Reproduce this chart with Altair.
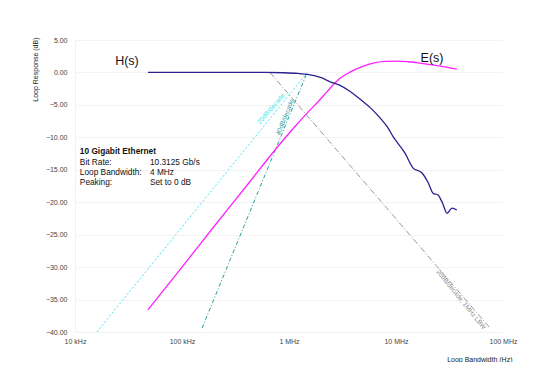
import altair as alt
import pandas as pd

FONT = "Liberation Sans"

# H(s) jitter transfer
h_freq = [4.8e4, 1e5, 3e5, 6e5, 9e5, 1.2e6, 1.5e6, 2.0e6, 2.4e6, 3.0e6, 3.7e6, 4.6e6,
          5.8e6, 7.1e6, 8.3e6, 9.4e6, 12.1e6, 14.4e6, 17.5e6, 20e6, 22.2e6, 24.7e6,
          27e6, 30e6, 33.4e6, 37e6]
h_db = [0, 0, 0, 0, -0.05, -0.15, -0.3, -0.8, -1.4, -2.0, -2.9, -4.1,
        -5.5, -7.0, -8.4, -9.9, -12.4, -14.7, -15.5, -17.0, -18.6, -18.9,
        -20.0, -21.7, -20.9, -21.2]

# E(s) error transfer
e_freq = [4.8e4, 1e5, 2e5, 4e5, 7.7e5, 1.1e6, 1.47e6, 1.9e6, 2.26e6, 2.7e6, 3.0e6,
          3.72e6, 4.8e6, 6.1e6, 8e6, 10.2e6, 13e6, 16.8e6, 25e6, 37e6]
e_db = [-36.6, -30.0, -23.7, -17.5, -11.6, -8.6, -6.3, -4.4, -3.0, -1.6, -0.9,
        0.05, 0.9, 1.45, 1.7, 1.75, 1.65, 1.45, 1.0, 0.5]

# asymptote lines
cyan_freq = [1.6e4, 1.47e6]
cyan_db = [-40.0, -0.1]
teal_freq = [1.54e5, 1.47e6]
teal_db = [-39.4, -0.1]
gray_freq = [6.64e5, 7.57e7]
gray_db = [0.0, -39.4]

# line annotations
ann_text = ["20dB/decade", "40dB/decade", "20dB/decade, 1MHz LBW"]
ann_freq = [6.79e5, 9.18e5, 4.05e7]
ann_db = [-5.6, -6.9, -35.0]
ann_angle = [311, 292, 51]
ann_color = ["#44e4f0", "#2a9d9d", "#8a8a8a"]

curve_labels = ["H(s)", "E(s)"]
curve_label_freq = [3.06e4, 2.17e7]
curve_label_db = [1.8, 2.2]

info_head = "10 Gigabit Ethernet"
info_keys = ["Bit Rate:", "Loop Bandwidth:", "Peaking:"]
info_vals = ["10.3125 Gb/s", "4 MHz", "Set to 0 dB"]
info_db = [-12.3, -13.9, -15.5, -17.0]
info_key_freq = 1.11e4
info_val_freq = 5.02e4

x_ticks = [1e4, 1e5, 1e6, 1e7, 1e8]
y_ticks = [5.0, 0.0, -5.0, -10.0, -15.0, -20.0, -25.0, -30.0, -35.0, -40.0]

xscale = alt.Scale(type="log", domain=[1e4, 1e8])
yscale = alt.Scale(domain=[-40, 5], nice=False)

xaxis = alt.Axis(
    values=x_ticks,
    labelExpr="datum.value >= 1e6 ? format(datum.value/1e6, 'd') + ' MHz' : format(datum.value/1e3, 'd') + ' kHz'",
    title="Loop Bandwidth (Hz)", titleFont=FONT, titleFontSize=7, titleFontWeight="normal",
    titleColor="#222", titleX=437, titleY=27, titleAlign="right", titleBaseline="middle",
    titleLimit=200,
    labelFont=FONT, labelFontSize=7, labelColor="#444", labelPadding=5,
    ticks=False, grid=False, domainColor="#f2f2f2", labelFlush=False, labelOverlap=False,
)
yaxis = alt.Axis(
    values=y_ticks, format=".2f",
    title="Loop Response (dB)", titleFont=FONT, titleFontSize=7, titleFontWeight="normal",
    titleColor="#222", titleX=-40, titleY=-3, titleAlign="right", titleBaseline="middle",
    titleAngle=270, titleLimit=200,
    labelFont=FONT, labelFontSize=7, labelColor="#444", labelPadding=8,
    ticks=False, grid=True, gridColor="#f3f3f3", domainColor="#f2f2f2",
    labelOverlap=False, labelFlush=False,
)

X = alt.X("f:Q", scale=xscale, axis=xaxis)
Y = alt.Y("db:Q", scale=yscale, axis=yaxis)


def line_df(f, d):
    return pd.DataFrame({"f": f, "db": d})


cyan = alt.Chart(line_df(cyan_freq, cyan_db)).mark_line(
    color="#44e4f0", strokeWidth=1, strokeDash=[2, 2]).encode(x=X, y=Y)
teal = alt.Chart(line_df(teal_freq, teal_db)).mark_line(
    color="#2a9d9d", strokeWidth=1, strokeDash=[4, 2, 1, 2]).encode(x=X, y=Y)
gray = alt.Chart(line_df(gray_freq, gray_db)).mark_line(
    color="#9a9a9a", strokeWidth=1, strokeDash=[6, 2, 1, 2]).encode(x=X, y=Y)
h_line = alt.Chart(line_df(h_freq, h_db)).mark_line(
    color="#2b2190", strokeWidth=1.3, interpolate="monotone").encode(x=X, y=Y)
e_line = alt.Chart(line_df(e_freq, e_db)).mark_line(
    color="#ff1fff", strokeWidth=1.3, interpolate="monotone").encode(x=X, y=Y)

ann_df = pd.DataFrame({"t": ann_text, "f": ann_freq, "db": ann_db,
                       "a": ann_angle, "c": ann_color})
ann = alt.Chart(ann_df).mark_text(font=FONT, fontSize=6.5, align="center",
                                  baseline="middle").encode(
    x=X, y=Y, text="t:N", angle=alt.Angle("a:Q", scale=None),
    color=alt.Color("c:N", scale=None))

cl_df = pd.DataFrame({"t": curve_labels, "f": curve_label_freq, "db": curve_label_db})
cl = alt.Chart(cl_df).mark_text(font=FONT, fontSize=12.5, color="#111",
                                align="center", baseline="middle").encode(
    x=X, y=Y, text="t:N")

head_df = pd.DataFrame({"t": [info_head], "f": [info_key_freq], "db": [info_db[0]]})
head = alt.Chart(head_df).mark_text(font=FONT, fontSize=8.3, fontWeight="bold",
                                    color="#111", align="left",
                                    baseline="middle").encode(x=X, y=Y, text="t:N")
keys_df = pd.DataFrame({"t": info_keys, "f": [info_key_freq] * 3, "db": info_db[1:]})
keys = alt.Chart(keys_df).mark_text(font=FONT, fontSize=8.3, color="#111",
                                    align="left", baseline="middle").encode(
    x=X, y=Y, text="t:N")
vals_df = pd.DataFrame({"t": info_vals, "f": [info_val_freq] * 3, "db": info_db[1:]})
vals = alt.Chart(vals_df).mark_text(font=FONT, fontSize=8.3, color="#111",
                                    align="left", baseline="middle").encode(
    x=X, y=Y, text="t:N")

chart = alt.layer(cyan, teal, gray, e_line, h_line, ann, cl, head, keys, vals).properties(
    width=428, height=292,
    autosize=alt.AutoSizeParams(type="none"),
    padding={"left": 67, "top": 32, "right": 22, "bottom": 30},
    background="white",
).configure_view(stroke=None).configure_axis(labelOverlap=False)

chart.save("out.html", embed_options={"renderer": "svg", "actions": False})
